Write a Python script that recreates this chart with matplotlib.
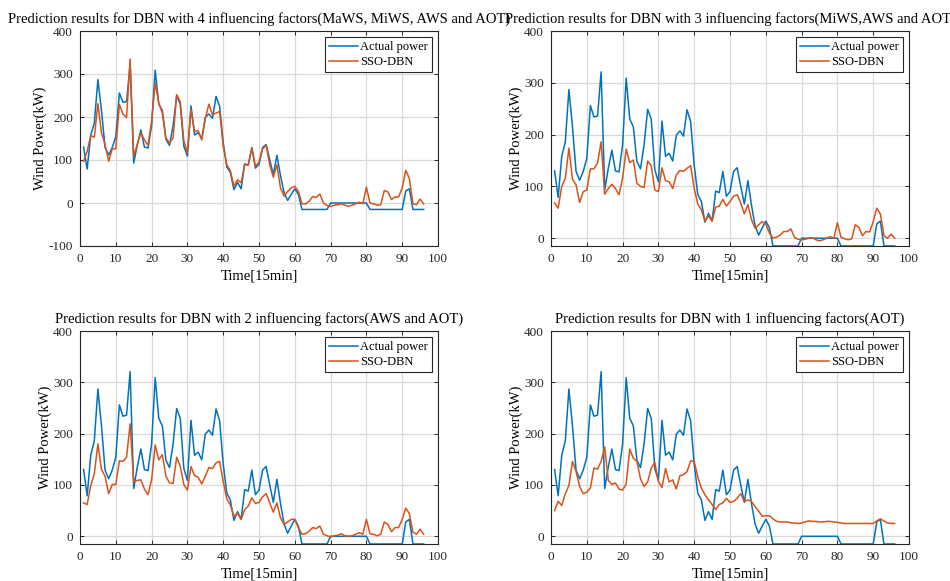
import matplotlib.pyplot as plt
import numpy as np

plt.rcParams['font.family'] = ['Liberation Serif', 'DejaVu Serif']
plt.rcParams['axes.unicode_minus'] = False

t = np.arange(1, 97)

actual = [130, 79, 158, 186, 287, 215, 129, 112, 129, 154,
          256, 234, 236, 321, 93, 135, 170, 130, 128, 180,
          309, 230, 215, 148, 134, 180, 249, 230, 132, 109,
          226, 158, 164, 149, 199, 207, 197, 248, 225, 141,
          84, 71, 31, 48, 33, 91, 88, 129, 81, 90,
          129, 136, 100, 66, 111, 64, 24, 6, 20, 33,
          20, -15, -15, -15, -15, -15, -15, -15, -15, 0,
          0, 0, 0, 0, 0, 0, 0, 0, 0, 0,
          -15, -15, -15, -15, -15, -15, -15, -15, -15, -15,
          28, 33, -15, -15, -15, -15]

# SSO-DBN forecasts, one list per input set
pred_4 = [97, 120, 157, 153, 231, 163, 136, 97, 126, 126,
          229, 207, 199, 335, 109, 136, 163, 147, 134, 190,
          279, 233, 209, 151, 140, 151, 252, 235, 145, 116,
          217, 167, 168, 147, 196, 230, 205, 209, 213, 132,
          89, 75, 39, 54, 47, 89, 88, 128, 85, 95,
          126, 134, 89, 60, 89, 35, 16, 27, 35, 39,
          27, -2, -2, 4, 15, 13, 21, 0, -6, -8,
          -5, -4, -2, -5, -8, -5, -2, 2, -2, 37,
          0, -2, -5, -4, 29, 26, 8, 14, 14, 35,
          76, 57, -2, -4, 9, -2]

pred_3 = [68, 58, 100, 116, 174, 114, 103, 69, 90, 93,
          134, 134, 145, 186, 85, 96, 104, 96, 84, 116,
          172, 146, 151, 106, 100, 98, 149, 140, 93, 90,
          136, 111, 109, 96, 122, 131, 129, 135, 140, 96,
          66, 55, 33, 43, 33, 60, 62, 75, 62, 71,
          81, 84, 68, 47, 65, 36, 19, 26, 32, 27,
          10, 0, 2, 6, 13, 13, 18, 2, -2, -3,
          -2, 0, 1, -3, -5, -3, 0, 3, 0, 30,
          2, -1, -3, -1, 26, 21, 5, 13, 12, 32,
          58, 47, 5, 0, 8, 0]

pred_2 = [65, 62, 99, 122, 180, 130, 117, 83, 101, 101,
          147, 146, 154, 219, 105, 109, 110, 92, 81, 110,
          178, 149, 159, 117, 104, 103, 154, 137, 101, 90,
          136, 118, 115, 102, 117, 134, 132, 143, 146, 107,
          73, 61, 39, 45, 33, 52, 59, 75, 64, 66,
          77, 83, 65, 47, 65, 36, 23, 28, 33, 33,
          17, 4, 5, 10, 17, 15, 20, 4, 1, -1,
          1, 2, 5, 1, 0, 1, 4, 7, 4, 33,
          5, 4, 1, 4, 28, 23, 9, 17, 17, 33,
          55, 44, 8, 4, 14, 4]

pred_1 = [50, 68, 60, 83, 99, 146, 126, 97, 83, 86,
          94, 133, 131, 146, 174, 109, 101, 104, 92, 90,
          102, 170, 152, 146, 112, 97, 106, 133, 144, 107,
          95, 132, 106, 110, 92, 118, 120, 126, 147, 146,
          116, 94, 81, 71, 62, 52, 62, 65, 74, 66,
          68, 74, 83, 68, 71, 68, 58, 49, 39, 40,
          40, 34, 29, 28, 28, 28, 26, 26, 25, 26,
          28, 30, 29, 29, 28, 28, 29, 29, 28, 27,
          26, 25, 25, 25, 25, 25, 25, 25, 25, 25,
          30, 34, 30, 26, 25, 25]

titles = ['Prediction results for DBN with 4 influencing factors(MaWS, MiWS, AWS and AOT)',
          'Prediction results for DBN with 3 influencing factors(MiWS,AWS and AOT)',
          'Prediction results for DBN with 2 influencing factors(AWS and AOT)',
          'Prediction results for DBN with 1 influencing factors(AOT)']
preds = [pred_4, pred_3, pred_2, pred_1]

W, H = 950, 581
# axes boxes in pixels: left, top, right, bottom
boxes = [(80, 31, 438, 246), (551, 31, 909, 246),
         (80, 331, 438, 544), (551, 331, 909, 544)]

blue = '#0072BD'
orange = '#D95319'

fig = plt.figure(figsize=(9.5, 5.81), dpi=100)

for i in range(4):
    l, tp, r, b = boxes[i]
    ax = fig.add_axes([l / W, (H - b) / H, (r - l) / W, (b - tp) / H])
    ax.plot(t, actual, color=blue, lw=1.1, label='Actual power')
    ax.plot(t, preds[i], color=orange, lw=1.1, label='SSO-DBN')
    ax.set_xlim(0, 100)
    if i == 0:
        ax.set_ylim(-100, 400)
        ax.set_yticks([-100, 0, 100, 200, 300, 400])
    else:
        ax.set_ylim(-15, 400)
        ax.set_yticks([0, 100, 200, 300, 400])
    ax.set_xticks(np.arange(0, 101, 10))
    ax.grid(True, color='#d9d9d9', lw=0.9)
    ax.set_axisbelow(True)
    ax.tick_params(direction='in', top=True, right=True, labelsize=9.5,
                   length=3, width=0.7, pad=5, colors='#262626')
    for s in ax.spines.values():
        s.set_linewidth(0.8)
        s.set_color('#262626')
    ax.set_title(titles[i], fontsize=10.5, pad=6)
    ax.set_xlabel('Time[15min]', fontsize=10.5, labelpad=3)
    ax.set_ylabel('Wind Power(kW)', fontsize=10.5, labelpad=1)
    leg = ax.legend(loc='upper right', fontsize=9, fancybox=False,
                    edgecolor='#262626', framealpha=1, handlelength=2.3,
                    handletextpad=0.2, borderaxespad=0.5, borderpad=0.3,
                    labelspacing=0.25)
    leg.get_frame().set_linewidth(0.8)

fig.savefig('out.png', dpi=100)
